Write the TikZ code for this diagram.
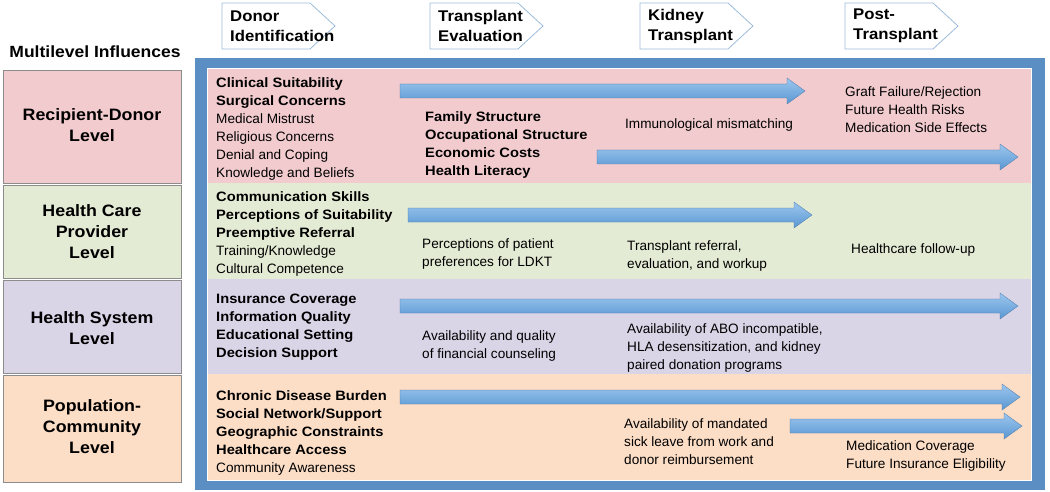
\documentclass[tikz,border=0pt]{standalone}
\usepackage{fontspec}
\setmainfont{Liberation Sans}[BoldFeatures={FakeStretch=1.08}]
\usetikzlibrary{positioning}
\definecolor{frameblue}{HTML}{5B8FC4}
\definecolor{rowred}{HTML}{F2CBCE}
\definecolor{rowgreen}{HTML}{E4EBD4}
\definecolor{rowpurple}{HTML}{DAD4E7}
\definecolor{roworange}{HTML}{FCDDC6}
\definecolor{arrowtop}{HTML}{9CC6EE}
\definecolor{arrowbot}{HTML}{5A97D2}
\tikzset{
  txt/.style={anchor=west, align=left, inner sep=0pt, font=\fontsize{13.6}{18}\selectfont},
  lvl/.style={align=center, inner sep=0pt, font=\fontsize{16.5}{21}\selectfont\bfseries},
  lvlbox/.style={draw=black!45, line width=0.8pt},
  phase/.style={draw=frameblue!60, fill=white, line width=0.8pt},
}
% fat blue arrow: from x1 to x2 at height y
\newcommand{\fatarrow}[3]{%
  \shade[top color=arrowtop, bottom color=arrowbot, draw=arrowbot!80!black, line width=0.3pt]
    (#1,#3-7) -- (#2-18,#3-7) -- (#2-18,#3-13) -- (#2,#3) -- (#2-18,#3+13)
    -- (#2-18,#3+7) -- (#1,#3+7) -- cycle;}
% phase chevron with label
\newcommand{\phasebox}[3]{%
  \draw[phase] (#1,3) -- (#1+88,3) -- (#1+113,26) -- (#1+88,49) -- (#1,49) -- cycle;
  \node[txt, font=\fontsize{15.5}{20}\selectfont\bfseries] (#3) at (#1+8,26) {#2};}
\begin{document}
\begin{tikzpicture}[x=1pt,y=-1pt]
\useasboundingbox (0,0) rectangle (1050,492);
% phases
\phasebox{222}{Donor\\Identification}{pDonor}
\phasebox{430}{Transplant\\Evaluation}{pEval}
\phasebox{640}{Kidney\\Transplant}{pKidney}
\phasebox{845}{Post-\\Transplant}{pPost}
% frame and rows
\fill[frameblue] (195,58) rectangle (1045,490);
\fill[rowred] (207,69) rectangle (1031,183);
\fill[rowgreen] (207,183) rectangle (1031,279);
\fill[rowpurple] (207,279) rectangle (1031,374);
\fill[roworange] (207,374) rectangle (1031,480);
\draw[white, line width=1pt] (207,69) rectangle (1031,480);
% levels
\node[lvl] (title) at (95,52) {\fontsize{16.2}{20}\selectfont Multilevel Influences};
\draw[lvlbox, fill=rowred] (3,70) rectangle (181,183);
\draw[lvlbox, fill=rowgreen] (3,185) rectangle (181,278);
\draw[lvlbox, fill=rowpurple] (3,280) rectangle (181,373);
\draw[lvlbox, fill=roworange] (3,375) rectangle (181,482);
\node[lvl] (lRD) at (92,125) {Recipient-Donor\\Level};
\node[lvl] (lHP) at (92,232) {Health Care\\Provider\\Level};
\node[lvl] (lHS) at (92,328) {Health System\\Level};
\node[lvl] (lPC) at (92,427) {Population-\\Community\\Level};
% arrows
\fatarrow{400}{805}{91}
\fatarrow{597}{1018}{157}
\fatarrow{408}{812}{215}
\fatarrow{400}{1018}{306}
\fatarrow{400}{1020}{397}
\fatarrow{790}{1022}{426}
% recipient-donor row
\node[txt] (rd1) at (216,129) {\textbf{Clinical Suitability}\\\textbf{Surgical Concerns}\\Medical Mistrust\\Religious Concerns\\Denial and Coping\\Knowledge and Beliefs};
\node[txt] (rd2) at (425,145) {\textbf{Family Structure}\\\textbf{Occupational Structure}\\\textbf{Economic Costs}\\\textbf{Health Literacy}};
\node[txt] (rd3) at (625,125) {Immunological mismatching};
\node[txt] (rd4) at (845,110) {Graft Failure/Rejection\\Future Health Risks\\Medication Side Effects};
% provider row
\node[txt] (hp1) at (216,234) {\textbf{Communication Skills}\\\textbf{Perceptions of Suitability}\\\textbf{Preemptive Referral}\\Training/Knowledge\\Cultural Competence};
\node[txt] (hp2) at (422,254) {Perceptions of patient\\preferences for LDKT};
\node[txt] (hp3) at (627,256) {Transplant referral,\\evaluation, and workup};
\node[txt] (hp4) at (851,250) {Healthcare follow-up};
% system row
\node[txt] (hs1) at (216,327) {\textbf{Insurance Coverage}\\\textbf{Information Quality}\\\textbf{Educational Setting}\\\textbf{Decision Support}};
\node[txt] (hs2) at (422,346) {Availability and quality\\of financial counseling};
\node[txt] (hs3) at (627,348) {Availability of ABO incompatible,\\HLA desensitization, and kidney\\paired donation programs};
% community row
\node[txt] (pc1) at (216,433) {\textbf{Chronic Disease Burden}\\\textbf{Social Network/Support}\\\textbf{Geographic Constraints}\\\textbf{Healthcare Access}\\Community Awareness};
\node[txt] (pc2) at (624,442) {Availability of mandated\\sick leave from work and\\donor reimbursement};
\node[txt] (pc3) at (846,456) {Medication Coverage\\Future Insurance Eligibility};
\end{tikzpicture}
\end{document}
